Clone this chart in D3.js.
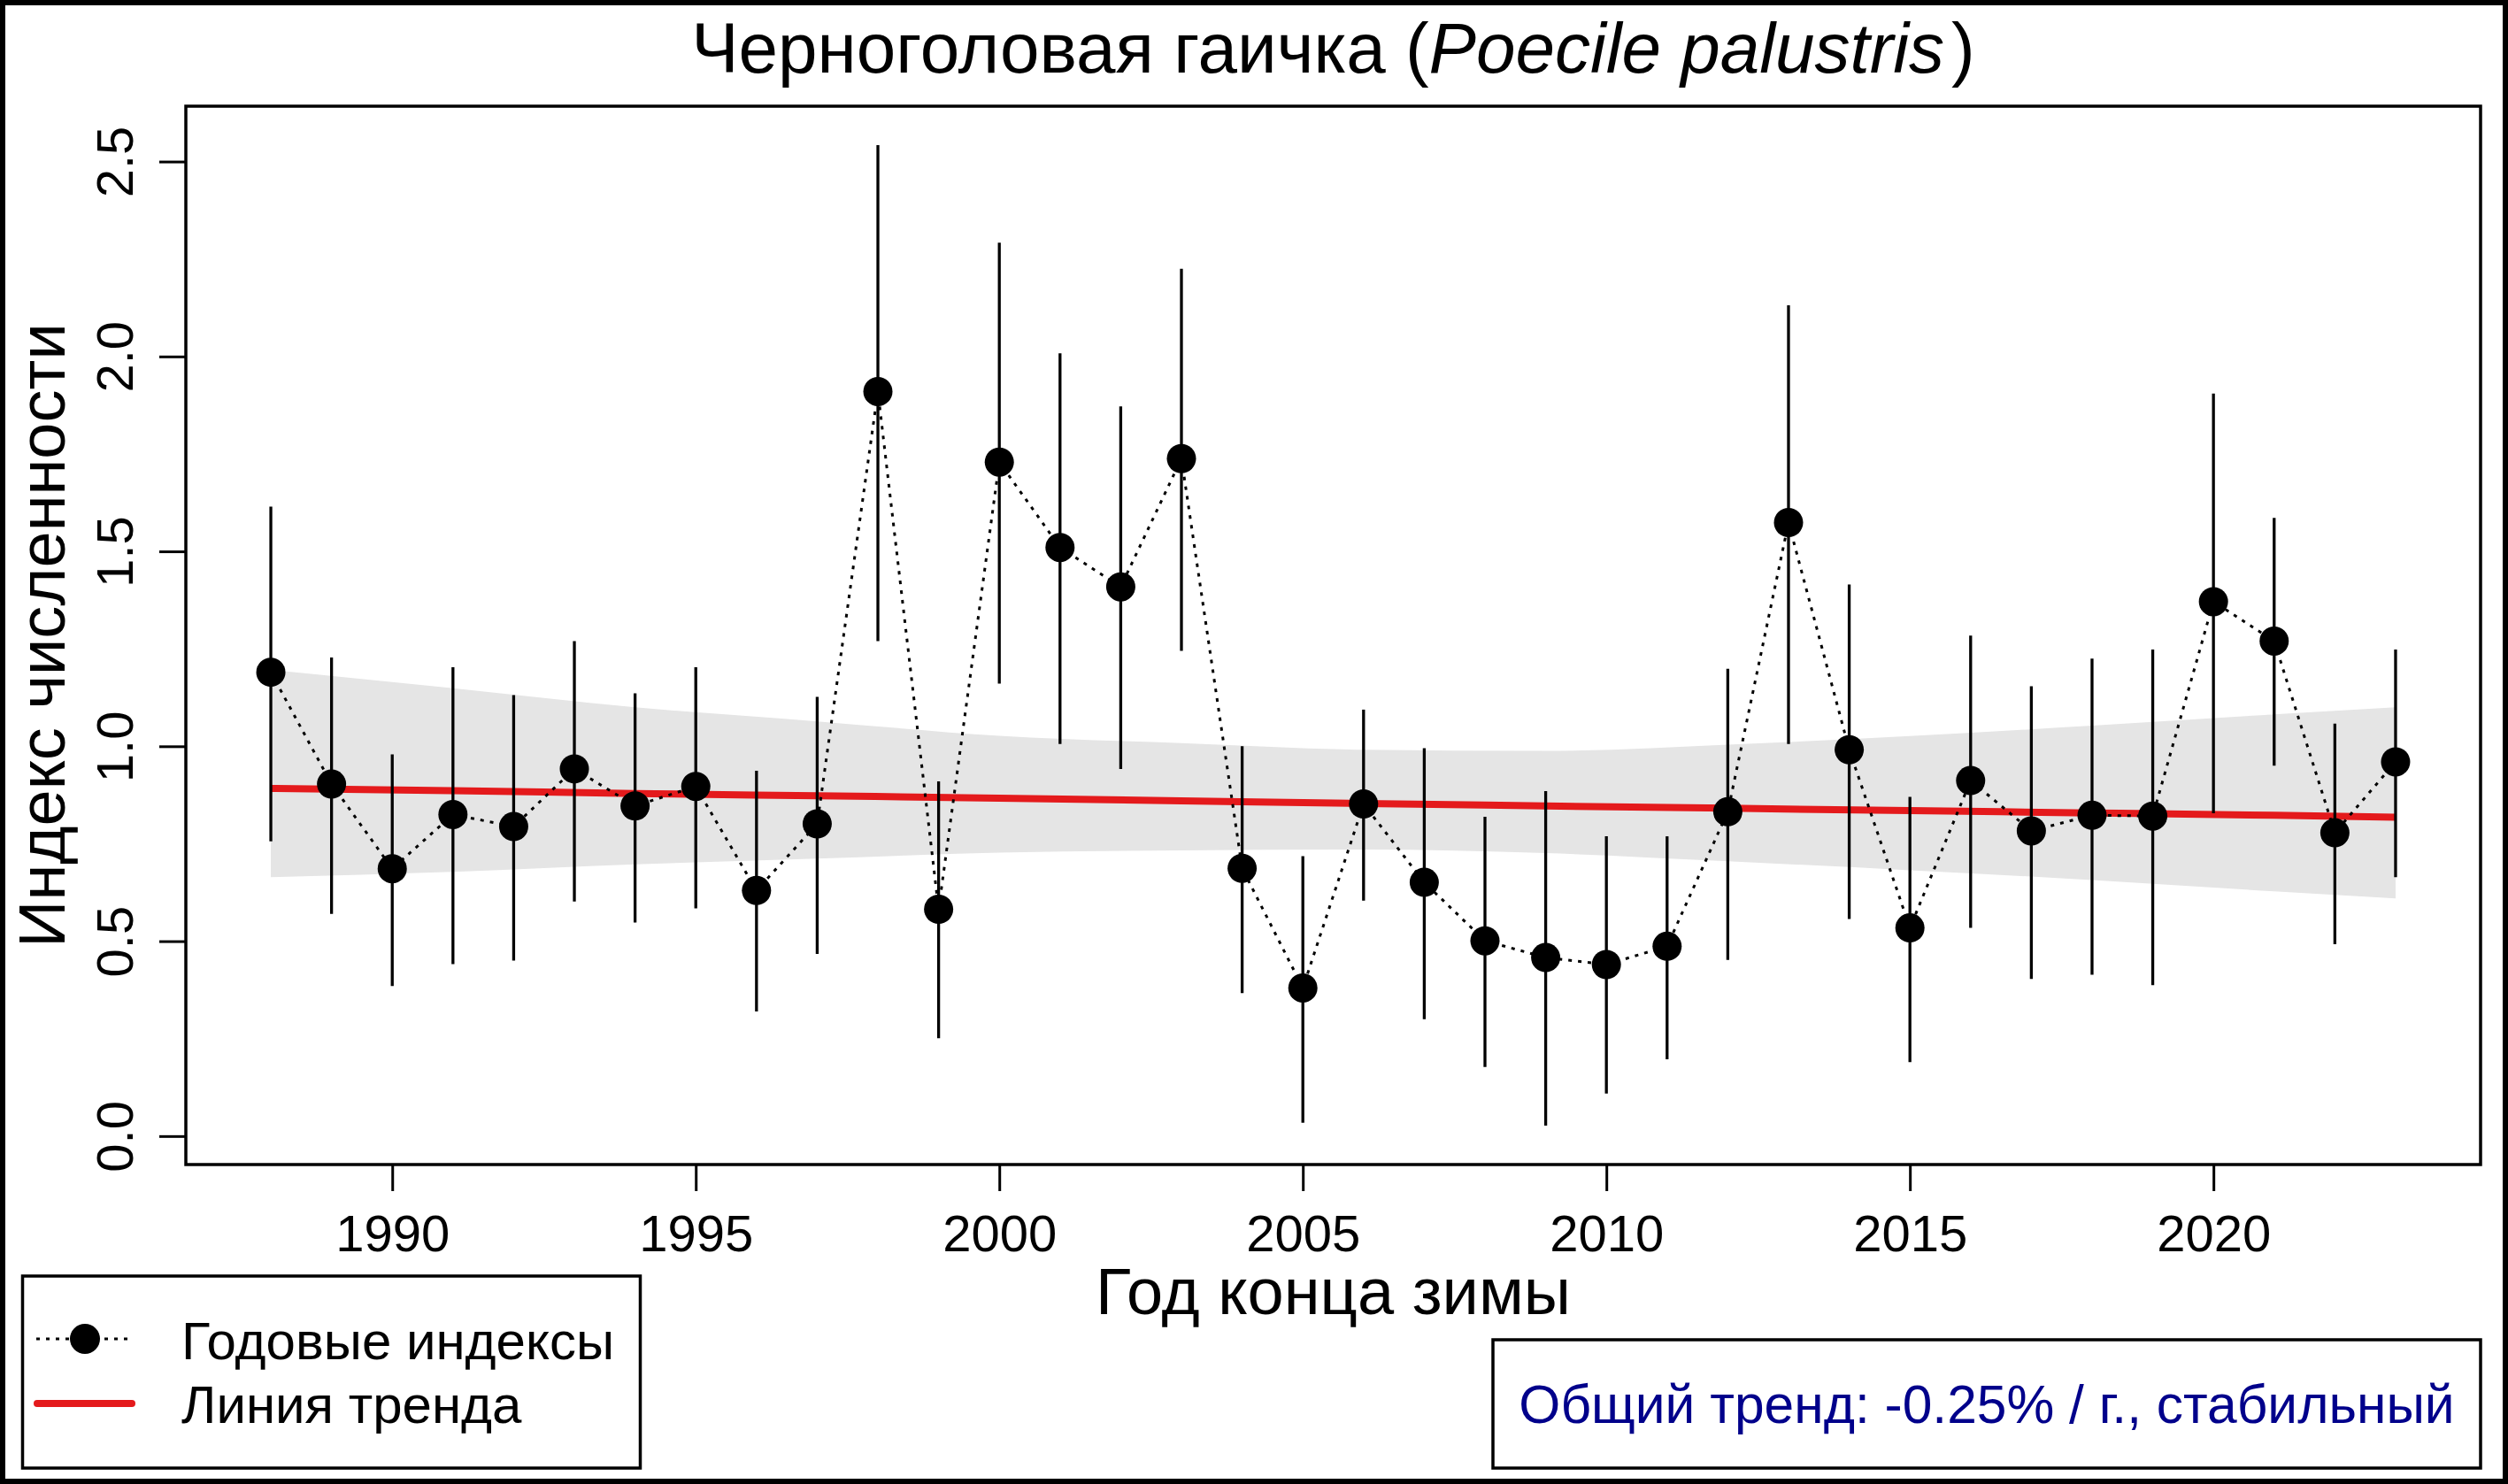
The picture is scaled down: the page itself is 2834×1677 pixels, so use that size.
<!DOCTYPE html>
<html lang="ru">
<head>
<meta charset="utf-8">
<title>Черноголовая гаичка</title>
<script src="https://cdn.jsdelivr.net/npm/d3@7"></script>
<style>
  body { margin: 0; background: #fff; }
  svg { display: block; font-family: "Liberation Sans", Arial, sans-serif; }
</style>
</head>
<body>
<script>
// annual indices with confidence limits
var years = [1988, 1989, 1990, 1991, 1992, 1993, 1994, 1995, 1996, 1997, 1998, 1999,
             2000, 2001, 2002, 2003, 2004, 2005, 2006, 2007, 2008, 2009, 2010, 2011,
             2012, 2013, 2014, 2015, 2016, 2017, 2018, 2019, 2020, 2021, 2022, 2023];
var index = [1.190, 0.903, 0.686, 0.825, 0.794, 0.942, 0.847, 0.897, 0.630, 0.801, 1.910, 0.582,
             1.729, 1.510, 1.409, 1.738, 0.687, 0.380, 0.852, 0.651, 0.501, 0.458, 0.440, 0.487,
             0.832, 1.574, 0.991, 0.534, 0.912, 0.783, 0.823, 0.821, 1.371, 1.270, 0.778, 0.960];
var lower = [0.756, 0.570, 0.385, 0.441, 0.450, 0.602, 0.548, 0.584, 0.320, 0.467, 1.270, 0.251,
             1.161, 1.006, 0.942, 1.245, 0.367, 0.034, 0.604, 0.300, 0.177, 0.027, 0.109, 0.197,
             0.452, 1.006, 0.557, 0.190, 0.534, 0.403, 0.414, 0.387, 0.828, 0.950, 0.492, 0.664];
var upper = [1.615, 1.228, 0.979, 1.203, 1.131, 1.270, 1.136, 1.203, 0.937, 1.127, 2.542, 0.910,
             2.292, 2.008, 1.872, 2.225, 1.000, 0.718, 1.094, 0.995, 0.819, 0.885, 0.769, 0.769,
             1.199, 2.131, 1.415, 0.870, 1.284, 1.154, 1.225, 1.248, 1.905, 1.586, 1.058, 1.248];

// trend line and its confidence band
var trendYears = [1988, 1991, 1994, 1997, 2000, 2003, 2006, 2009, 2012, 2015, 2018, 2021, 2023];
var trendVals  = [0.892, 0.886, 0.879, 0.873, 0.867, 0.860, 0.853, 0.847, 0.841, 0.835, 0.829, 0.823, 0.818];
var bandLo     = [0.664, 0.678, 0.697, 0.712, 0.727, 0.733, 0.735, 0.726, 0.705, 0.682, 0.657, 0.628, 0.610];
var bandHi     = [1.196, 1.149, 1.100, 1.064, 1.027, 1.008, 0.991, 0.988, 1.004, 1.026, 1.053, 1.082, 1.100];

var xTicks = [1990, 1995, 2000, 2005, 2010, 2015, 2020];
var yTicks = [0, 0.5, 1, 1.5, 2, 2.5];

var w = 2834, h = 1677;
var pLeft = 210, pRight = 2803, pTop = 120, pBottom = 1316;

var svg = d3.select("body").append("svg")
    .attr("width", w)
    .attr("height", h);

svg.append("rect").attr("width", w).attr("height", h).attr("fill", "#fff");

var x = d3.scaleLinear().domain([1986.6, 2024.4]).range([pLeft, pRight]);
var y = d3.scaleLinear().domain([-0.073, 2.642]).range([pBottom, pTop]);

// band
var area = d3.area()
    .x(function(d, i) { return x(trendYears[i]); })
    .y0(function(d, i) { return y(bandLo[i]); })
    .y1(function(d, i) { return y(bandHi[i]); })
    .curve(d3.curveMonotoneX);
svg.append("path").datum(trendYears).attr("d", area).attr("fill", "#e5e5e5");

// trend line
var trendLine = d3.line()
    .x(function(d, i) { return x(trendYears[i]); })
    .y(function(d, i) { return y(trendVals[i]); })
    .curve(d3.curveMonotoneX);
svg.append("path").datum(trendYears).attr("d", trendLine)
    .attr("fill", "none").attr("stroke", "#e41a1c").attr("stroke-width", 8);

// error bars
svg.selectAll("line.err")
    .data(years)
    .enter()
    .append("line")
    .attr("class", "err")
    .attr("x1", function(d) { return x(d); })
    .attr("x2", function(d) { return x(d); })
    .attr("y1", function(d, i) { return y(lower[i]); })
    .attr("y2", function(d, i) { return y(upper[i]); })
    .attr("stroke", "#000").attr("stroke-width", 3.3);

// dotted connection
var idxLine = d3.line()
    .x(function(d) { return x(d); })
    .y(function(d, i) { return y(index[i]); });
svg.append("path").datum(years).attr("d", idxLine)
    .attr("fill", "none").attr("stroke", "#000").attr("stroke-width", 3)
    .attr("stroke-dasharray", "4,7");

svg.selectAll("circle.pt")
    .data(years)
    .enter()
    .append("circle")
    .attr("class", "pt")
    .attr("cx", function(d) { return x(d); })
    .attr("cy", function(d, i) { return y(index[i]); })
    .attr("r", 16.5)
    .attr("fill", "#000");

// axes
var xAxis = d3.axisBottom(x).tickValues(xTicks).tickFormat(d3.format("d"))
    .tickSize(30).tickPadding(27);
var gx = svg.append("g")
    .attr("transform", "translate(0," + pBottom + ")")
    .call(xAxis);
gx.select(".domain").remove();
gx.selectAll(".tick line").attr("stroke-width", 3);
gx.selectAll("text").attr("font-size", 58).attr("fill", "#000")
    .attr("font-family", "Liberation Sans, Arial, sans-serif");

var yAxis = d3.axisLeft(y).tickValues(yTicks).tickFormat(d3.format(".1f")).tickSize(30);
var gy = svg.append("g")
    .attr("transform", "translate(" + pLeft + ",0)")
    .call(yAxis);
gy.select(".domain").remove();
gy.selectAll(".tick line").attr("stroke-width", 3);
gy.selectAll("text")
    .attr("x", 0).attr("y", 0).attr("dy", 0)
    .attr("transform", "translate(-60,0) rotate(-90)")
    .attr("text-anchor", "middle")
    .attr("font-size", 58).attr("fill", "#000")
    .attr("font-family", "Liberation Sans, Arial, sans-serif");

// plot box
svg.append("rect")
    .attr("x", pLeft).attr("y", pTop)
    .attr("width", pRight - pLeft).attr("height", pBottom - pTop)
    .attr("fill", "none").attr("stroke", "#000").attr("stroke-width", 3.5);

// titles
var title = svg.append("text")
    .attr("x", (pLeft + pRight) / 2).attr("y", 82)
    .attr("text-anchor", "middle").attr("font-size", 80);
title.append("tspan").text("Черноголовая гаичка (");
title.append("tspan").attr("font-style", "italic").text("Poecile palustris");
title.append("tspan").attr("dx", 8).text(")");

svg.append("text")
    .attr("x", (pLeft + pRight) / 2).attr("y", 1485)
    .attr("text-anchor", "middle").attr("font-size", 74)
    .text("Год конца зимы");

svg.append("text")
    .attr("transform", "translate(73," + ((pTop + pBottom) / 2) + ") rotate(-90)")
    .attr("text-anchor", "middle").attr("font-size", 74)
    .text("Индекс численности");

// legend
var lg = svg.append("g");
lg.append("rect").attr("x", 25.5).attr("y", 1442).attr("width", 698).attr("height", 217)
    .attr("fill", "#fff").attr("stroke", "#000").attr("stroke-width", 3.5);
lg.append("line").attr("x1", 41).attr("x2", 144).attr("y1", 1513).attr("y2", 1513)
    .attr("stroke", "#000").attr("stroke-width", 3).attr("stroke-dasharray", "4,7");
lg.append("circle").attr("cx", 96).attr("cy", 1513).attr("r", 17).attr("fill", "#000");
lg.append("line").attr("x1", 42).attr("x2", 149).attr("y1", 1586).attr("y2", 1586)
    .attr("stroke", "#e41a1c").attr("stroke-width", 8).attr("stroke-linecap", "round");
lg.append("text").attr("x", 205).attr("y", 1536).attr("font-size", 60).text("Годовые индексы");
lg.append("text").attr("x", 205).attr("y", 1608).attr("font-size", 60).text("Линия тренда");

// trend box
svg.append("rect").attr("x", 1687).attr("y", 1514).attr("width", 1116).attr("height", 145)
    .attr("fill", "#fff").attr("stroke", "#000").attr("stroke-width", 3.5);
svg.append("text").attr("x", 2245).attr("y", 1608).attr("text-anchor", "middle")
    .attr("font-size", 60.5).attr("fill", "#00008b")
    .text("Общий тренд: -0.25% / г., стабильный");

// outer frame
svg.append("rect").attr("x", 3).attr("y", 3).attr("width", w - 6).attr("height", h - 6)
    .attr("fill", "none").attr("stroke", "#000").attr("stroke-width", 6);
</script>
</body>
</html>
